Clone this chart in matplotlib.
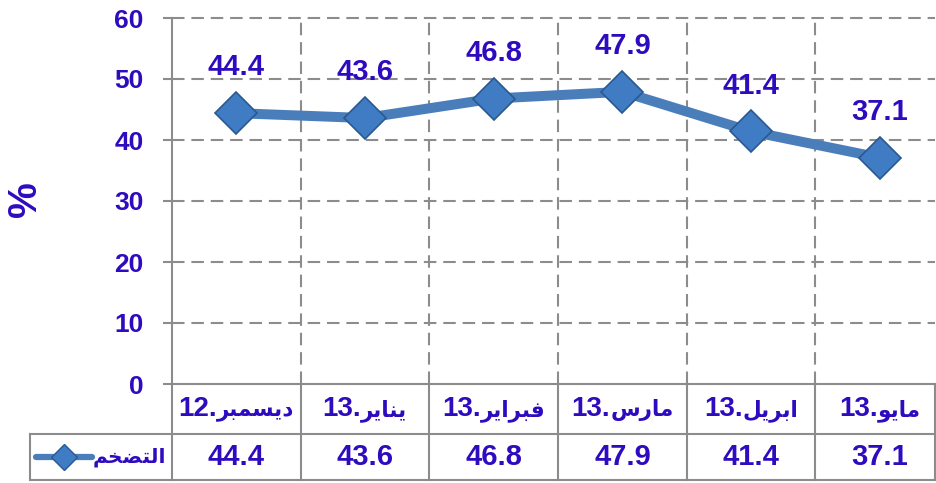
import matplotlib
matplotlib.use("Agg")
import matplotlib.pyplot as plt

# data
months = ["ديسمبر.12", "يناير.13", "فبراير.13", "مارس.13", "ابريل.13", "مايو.13"]
inflation = [44.4, 43.6, 46.8, 47.9, 41.4, 37.1]
series_name = "التضخم"
y_ticks = [0, 10, 20, 30, 40, 50, 60]

txt_col = "#2E0BBF"
line_col = "#4A7EBB"
grid_col = "#8C8C8C"
fam = ["Liberation Sans", "DejaVu Sans"]
num_font = "Liberation Sans"

# arabic presentation forms (isolated, final, initial, medial)
FORMS = {
    "ا": ("\uFE8D", "\uFE8E", None, None),
    "ب": ("\uFE8F", "\uFE90", "\uFE91", "\uFE92"),
    "ت": ("\uFE95", "\uFE96", "\uFE97", "\uFE98"),
    "خ": ("\uFEA5", "\uFEA6", "\uFEA7", "\uFEA8"),
    "د": ("\uFEA9", "\uFEAA", None, None),
    "ر": ("\uFEAD", "\uFEAE", None, None),
    "س": ("\uFEB1", "\uFEB2", "\uFEB3", "\uFEB4"),
    "ض": ("\uFEBD", "\uFEBE", "\uFEBF", "\uFEC0"),
    "ف": ("\uFED1", "\uFED2", "\uFED3", "\uFED4"),
    "ل": ("\uFEDD", "\uFEDE", "\uFEDF", "\uFEE0"),
    "م": ("\uFEE1", "\uFEE2", "\uFEE3", "\uFEE4"),
    "ن": ("\uFEE5", "\uFEE6", "\uFEE7", "\uFEE8"),
    "و": ("\uFEED", "\uFEEE", None, None),
    "ي": ("\uFEF1", "\uFEF2", "\uFEF3", "\uFEF4"),
}

def shape(word):
    out = []
    for i, ch in enumerate(word):
        iso, fin, ini, med = FORMS[ch]
        prev_j = i > 0 and FORMS[word[i-1]][2] is not None
        next_j = ini is not None and i < len(word) - 1
        if prev_j and next_j:
            out.append(med)
        elif prev_j:
            out.append(fin)
        elif next_j:
            out.append(ini)
        else:
            out.append(iso)
    return "".join(reversed(out))

W, H = 937, 483
fig = plt.figure(figsize=(W/100, H/100), dpi=100)
ax = fig.add_axes([172/W, 1-384/H, (935-172)/W, 366/H])
colw = 128.7
xr = -0.5 + (935-172)/colw
ax.set_xlim(-0.5, xr)
ax.set_ylim(0, 60)
for s in ax.spines.values():
    s.set_visible(False)
ax.set_xticks([])
ax.set_yticks(y_ticks)
ax.tick_params(axis="y", length=6.5, width=1.5, color=grid_col, pad=14, direction="out")
for lab in ax.get_yticklabels():
    lab.set_fontfamily(num_font)
    lab.set_fontweight("bold")
    lab.set_fontsize(19)
    lab.set_color(txt_col)

ppu = 366/60.0
y_row = -50/ppu
y_bot = -96/ppu
x_leg = -0.5 - 142/colw
dash = (0, (6, 3.3))

for v in y_ticks[1:]:
    ax.plot([-0.5, xr], [v, v], color=grid_col, lw=1.5, ls=dash, clip_on=False, zorder=1)
for k in range(1, len(months)):
    ax.plot([k-0.5, k-0.5], [0, 60], color=grid_col, lw=1.5, ls=dash, zorder=1)
    ax.plot([k-0.5, k-0.5], [0, y_bot], color=grid_col, lw=1.5, clip_on=False, zorder=1)
ax.plot([-0.5, -0.5], [60, y_bot], color=grid_col, lw=1.5, clip_on=False)
ax.plot([-0.5, xr], [0, 0], color=grid_col, lw=1.5, clip_on=False)
ax.plot([x_leg, xr], [y_row, y_row], color=grid_col, lw=1.5, clip_on=False)
ax.plot([x_leg, xr], [y_bot, y_bot], color=grid_col, lw=1.5, clip_on=False)
ax.plot([x_leg, x_leg], [y_row, y_bot], color=grid_col, lw=1.5, clip_on=False)
ax.plot([xr, xr], [0, y_bot], color=grid_col, lw=1.5, clip_on=False)

xs = list(range(len(months)))
ax.plot(xs, inflation, color=line_col, lw=7.2, zorder=3, solid_capstyle="round")
ax.plot(xs, inflation, ls="none", marker="D", ms=21, mfc="#3F7CC4", mec="#2A5890", mew=1.2, zorder=4)

for x, v in zip(xs, inflation):
    ax.annotate(f"{v}", (x, v), xytext=(0, 33), textcoords="offset points", ha="center", va="center",
                fontsize=21, fontweight="bold", color=txt_col, family=num_font)

# header: number + dot on the left, arabic word on the right, group centred in cell
head = []
for x, m in zip(xs, months):
    word, num = m.split(".")
    t1 = ax.annotate(num + ".", (x, y_row/2), xytext=(0, 0), textcoords="offset points", ha="left", va="center",
                     fontsize=20, fontweight="bold", color=txt_col, family=num_font, annotation_clip=False)
    t2 = ax.annotate(shape(word), (x, y_row/2), xytext=(0, -1), textcoords="offset points", ha="left", va="center",
                     fontsize=15.5, fontweight="bold", color=txt_col, family=fam, annotation_clip=False)
    head.append((t1, t2))
fig.canvas.draw()
r = fig.canvas.get_renderer()
for t1, t2 in head:
    w1 = t1.get_window_extent(r).width
    w2 = t2.get_window_extent(r).width
    start = -(w1 + w2) / 2
    t1.set_position((start * 0.72, 0))
    t2.set_position(((start + w1) * 0.72, -1))

for x, v in zip(xs, inflation):
    ax.text(x, (y_row+y_bot)/2, f"{v}", ha="center", va="center", fontsize=21, fontweight="bold",
            color=txt_col, family=num_font, clip_on=False)

# legend key in table
yl = (y_row+y_bot)/2
ax.plot([x_leg + 6/colw, x_leg + 62/colw], [yl, yl], color=line_col, lw=4.5, clip_on=False, solid_capstyle="round")
ax.plot([x_leg + 34/colw], [yl], ls="none", marker="D", ms=13, mfc="#3F7CC4", mec="#2A5890", mew=1, clip_on=False)
ax.text(-0.5 - 6/colw, yl, shape(series_name), ha="right", va="center", fontsize=14.5, fontweight="bold",
        color=txt_col, family=fam, clip_on=False)

fig.text(25/W, 1-199/H, "%", rotation=90, ha="center", va="center", fontsize=29, fontweight="bold",
         color=txt_col, family=num_font)

fig.savefig("out.png", dpi=100)
